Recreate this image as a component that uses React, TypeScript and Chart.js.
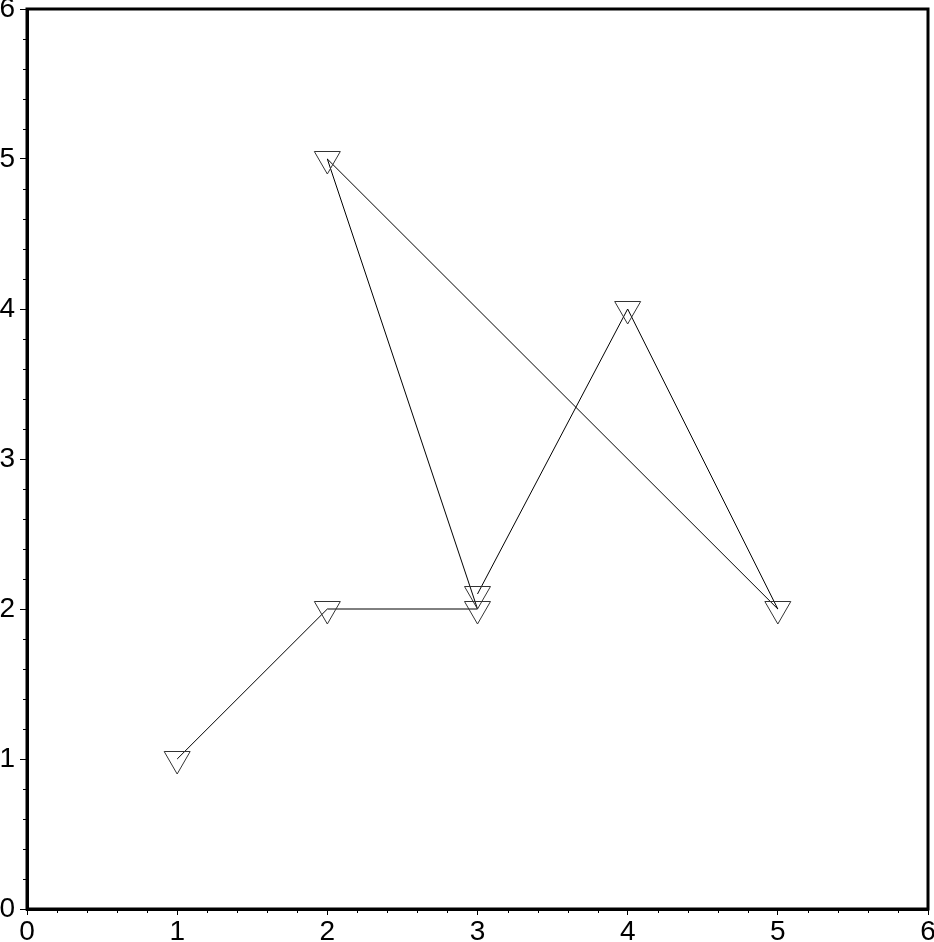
import React, { useEffect, useRef } from "react";
import { Chart, registerables } from "chart.js";

Chart.register(...registerables);

const xValues = [1, 2, 3, 2, 5, 4, 3];
const yValues = [1, 2, 2, 5, 2, 4, 2.1];
const axisMin = 0;
const axisMax = 6;
const majorStep = 1;
const minorStep = 0.2;

const frameAndMinorTicks = {
  id: "frameAndMinorTicks",
  afterDraw(chart: any) {
    const { ctx, chartArea } = chart;
    const xs = chart.scales.x;
    const ys = chart.scales.y;
    ctx.save();
    ctx.strokeStyle = "#000";
    ctx.lineWidth = 1;
    ctx.beginPath();
    const n = Math.round((axisMax - axisMin) / minorStep);
    for (let i = 0; i <= n; i++) {
      const v = axisMin + i * minorStep;
      if (Math.abs(v - Math.round(v)) < 1e-6) continue;
      const px = Math.round(xs.getPixelForValue(v)) + 0.5;
      ctx.moveTo(px, chartArea.bottom);
      ctx.lineTo(px, chartArea.bottom + 4);
      const py = Math.round(ys.getPixelForValue(v)) + 0.5;
      ctx.moveTo(chartArea.left, py);
      ctx.lineTo(chartArea.left - 4, py);
    }
    ctx.stroke();
    ctx.lineWidth = 3;
    ctx.strokeRect(
      chartArea.left,
      chartArea.top,
      chartArea.right - chartArea.left,
      chartArea.bottom - chartArea.top
    );
    ctx.restore();
  },
};

export default function App() {
  const ref = useRef<HTMLCanvasElement>(null);
  useEffect(() => {
    document.body.style.margin = "0";
    Chart.defaults.font.family = "'Liberation Sans', Arial, sans-serif";
    Chart.defaults.font.size = 28;
    const data = xValues.map((x, i) => ({ x, y: yValues[i] }));
    const font = { family: "'Liberation Sans', Arial, sans-serif", size: 28 };
    const chart = new Chart(ref.current!, {
      type: "scatter",
      data: {
        datasets: [
          {
            data,
            showLine: true,
            clip: false,
            borderColor: "#000",
            borderWidth: 1,
            pointStyle: "triangle",
            rotation: 180,
            pointRadius: 15,
            pointBorderColor: "#333",
            pointBorderWidth: 1,
            pointBackgroundColor: "rgba(0,0,0,0)",
          },
        ],
      },
      options: {
        animation: false,
        responsive: false,
        maintainAspectRatio: false,
        layout: { autoPadding: false, padding: { top: 9, right: 6, left: 0, bottom: 0 } },
        plugins: { legend: { display: false }, tooltip: { enabled: false } },
        scales: {
          x: {
            type: "linear",
            min: axisMin,
            max: axisMax,
            afterFit: (s: any) => {
              s.height = 33;
              s.paddingLeft = 0;
              s.paddingRight = 0;
            },
            ticks: { stepSize: majorStep, color: "#000", font, padding: 0, maxRotation: 0 },
            grid: { drawOnChartArea: false, tickLength: 6, color: "#000", tickWidth: 1 },
            border: { display: true, color: "#000", width: 3 },
          },
          y: {
            type: "linear",
            min: axisMin,
            max: axisMax,
            afterFit: (s: any) => {
              s.width = 27;
              s.paddingTop = 0;
              s.paddingBottom = 0;
            },
            ticks: { stepSize: majorStep, color: "#000", font, padding: 5 },
            grid: { drawOnChartArea: false, tickLength: 7, color: "#000", tickWidth: 1 },
            border: { display: true, color: "#000", width: 3 },
          },
        },
      },
      plugins: [frameAndMinorTicks],
    });
    return () => chart.destroy();
  }, []);
  return (
    <div style={{ position: "absolute", left: 0, top: 0, width: 934, height: 942 }}>
      <canvas ref={ref} width={934} height={942} style={{ display: "block" }} />
    </div>
  );
}
